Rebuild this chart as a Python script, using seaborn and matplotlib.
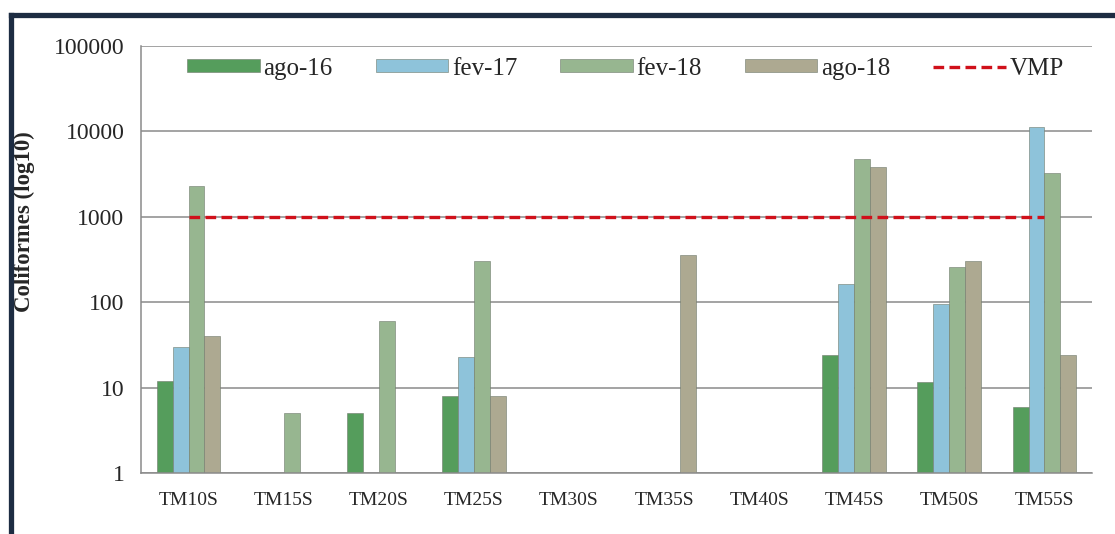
import numpy as np
import pandas as pd
import matplotlib
matplotlib.use("Agg")
import matplotlib.pyplot as plt
from matplotlib.lines import Line2D
import seaborn as sns

sites = ["TM10S", "TM15S", "TM20S", "TM25S", "TM30S", "TM35S", "TM40S", "TM45S", "TM50S", "TM55S"]
campaigns = ["ago-16", "fev-17", "fev-18", "ago-18"]
ago16 = [12, np.nan, 5, 8, np.nan, np.nan, np.nan, 24, 11.5, 6]
fev17 = [30, np.nan, np.nan, 23, np.nan, np.nan, np.nan, 165, 95, 11200]
fev18 = [2300, 5, 60, 300, np.nan, np.nan, np.nan, 4800, 260, 3250]
ago18 = [40, np.nan, np.nan, 8, np.nan, 355, np.nan, 3850, 300, 24]
vmp = 1000
yticks = [1, 10, 100, 1000, 10000, 100000]

colors = ["#559d5c", "#8ec3da", "#97b690", "#ada991"]

df = pd.DataFrame({
    "site": sites * 4,
    "campaign": sum([[c] * len(sites) for c in campaigns], []),
    "value": ago16 + fev17 + fev18 + ago18,
})

sns.set_style("white")
plt.rcParams["font.family"] = ["Liberation Serif", "DejaVu Serif"]

fig = plt.figure(figsize=(11.15, 5.34), dpi=100)
ax = fig.add_axes([141 / 1115, 1 - 473 / 534, (1092 - 141) / 1115, (473 - 46) / 534])
ax.set_yscale("log")
sns.barplot(data=df, x="site", y="value", hue="campaign", order=sites, hue_order=campaigns,
            palette=colors, width=0.67, gap=0, saturation=1, errorbar=None,
            edgecolor="#6f7a6c", linewidth=0.4, ax=ax)

ax.plot(np.arange(len(sites)), [vmp] * len(sites), color="#d0101a", lw=2.4,
        dashes=(3.2, 1.6), label="VMP", zorder=5)

ax.set_ylim(1, 100000)
ax.set_xlim(-0.5, len(sites) - 0.5)
ax.set_yticks(yticks)
ax.set_yticklabels([str(v) for v in yticks], fontsize=17)
ax.yaxis.set_minor_locator(matplotlib.ticker.NullLocator())
ax.grid(axis="y", color="#8a8a8a", lw=1.1)
ax.set_axisbelow(True)
ax.tick_params(axis="y", length=4, color="#8a8a8a", width=1, pad=8)
ax.set_xticks(np.arange(len(sites)))
ax.set_xticklabels(sites, fontsize=14)
ax.tick_params(axis="x", length=0, pad=14)
ax.set_xticks(np.arange(len(sites) + 1) - 0.5, minor=True)
ax.tick_params(axis="x", which="minor", length=5, color="#8a8a8a", width=1)
ax.set_xlabel("")
ax.set_ylabel("Coliformes (log10)", fontsize=16.5, fontweight="bold")
ax.yaxis.set_label_coords(-0.111, 0.588)
for s in ["top", "right"]:
    ax.spines[s].set_visible(False)
for s in ["left", "bottom"]:
    ax.spines[s].set_color("#8a8a8a")
    ax.spines[s].set_linewidth(1.1)

handles, labels = ax.get_legend_handles_labels()
ax.legend(handles, labels, ncol=5, loc="center left", bbox_to_anchor=(0.0484, 0.947),
          frameon=False, fontsize=18, handlelength=2.9, handleheight=0.45,
          columnspacing=1.72, handletextpad=0.15, borderaxespad=0, borderpad=0)

fig.add_artist(Line2D([10.5 / 1115, 10.5 / 1115], [0, 1 - 14.5 / 534], color="#1d2c42", lw=3.8,
                      transform=fig.transFigure, solid_capstyle="projecting"))
fig.add_artist(Line2D([10.5 / 1115, 1.0], [1 - 14.5 / 534, 1 - 14.5 / 534], color="#1d2c42", lw=3.8,
                      transform=fig.transFigure, solid_capstyle="projecting"))

fig.savefig("out.png", dpi=100)
